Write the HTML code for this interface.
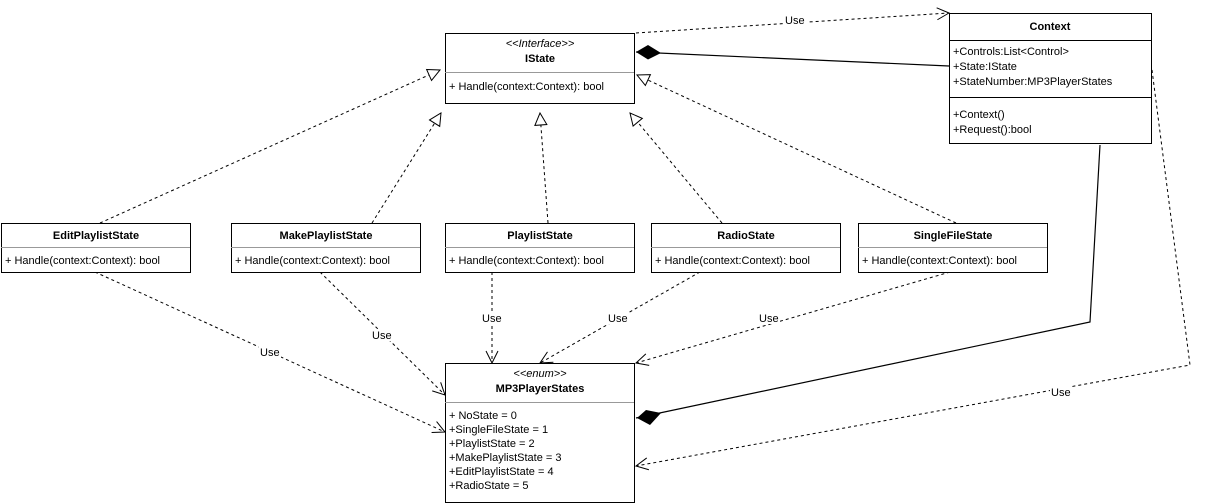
<!DOCTYPE html><html><head><style>body{margin:0;background:#fff}svg{display:block}text{font-family:"Liberation Sans",sans-serif;font-size:11px;fill:#000}</style></head><body>
<svg width="1205" height="504" xmlns="http://www.w3.org/2000/svg">
<defs>
<marker id="tri" markerWidth="14" markerHeight="14" refX="13" refY="7" orient="auto" markerUnits="userSpaceOnUse"><path d="M1,1 L13,7 L1,13 Z" fill="#fff" stroke="#000"/></marker>
<marker id="open" markerWidth="14" markerHeight="14" refX="13" refY="7" orient="auto" markerUnits="userSpaceOnUse"><path d="M1,1 L13,7 L1,13" fill="none" stroke="#000"/></marker>
</defs>
<g fill="none" stroke="#000">
<g stroke-dasharray="3,3">
<path d="M100,223 L440,70" marker-end="url(#tri)"/>
<path d="M372,223 L441,113" marker-end="url(#tri)"/>
<path d="M548,223 L540,113" marker-end="url(#tri)"/>
<path d="M722,223 L630,113" marker-end="url(#tri)"/>
<path d="M956,223 L637,75" marker-end="url(#tri)"/>
<path d="M636,33 L949,13" marker-end="url(#open)"/>
<path d="M1152,70 L1190,365 L636,466" marker-end="url(#open)"/>
<path d="M95,272 L445,432" marker-end="url(#open)"/>
<path d="M320,272 L445,395" marker-end="url(#open)"/>
<path d="M492,272 L492,363" marker-end="url(#open)"/>
<path d="M700,272 L540,363" marker-end="url(#open)"/>
<path d="M950,272 L636,363" marker-end="url(#open)"/>
</g>
<path d="M949,66 L636,52" stroke-width="1.2"/>
<path d="M1100,145 L1090,322 L636,418" stroke-width="1.2"/>
</g>
<g fill="#fff" font-size="11">
<rect x="785" y="14" width="22" height="12"/><text x="785" y="24">Use</text>
<rect x="1050" y="386" width="22" height="12"/><text x="1051" y="396">Use</text>
<rect x="259" y="346" width="22" height="12"/><text x="260" y="356">Use</text>
<rect x="371" y="329" width="22" height="12"/><text x="372" y="339">Use</text>
<rect x="481" y="312" width="22" height="12"/><text x="482" y="322">Use</text>
<rect x="607" y="312" width="22" height="12"/><text x="608" y="322">Use</text>
<rect x="758" y="312" width="22" height="12"/><text x="759" y="322">Use</text>
</g>
<g stroke="#000" fill="#fff">
<rect x="445.5" y="33.5" width="189" height="70"/><line x1="445" y1="72.5" x2="634" y2="72.5" stroke="#999"/>
<rect x="949.5" y="13.5" width="202" height="130"/><line x1="949" y1="40.5" x2="1151" y2="40.5"/><line x1="949" y1="97.5" x2="1151" y2="97.5"/>
<rect x="1.5" y="223.5" width="189" height="49"/><line x1="1" y1="247.5" x2="190" y2="247.5" stroke="#999"/>
<rect x="231.5" y="223.5" width="189" height="49"/><line x1="231" y1="247.5" x2="420" y2="247.5" stroke="#999"/>
<rect x="445.5" y="223.5" width="189" height="49"/><line x1="445" y1="247.5" x2="634" y2="247.5" stroke="#999"/>
<rect x="651.5" y="223.5" width="189" height="49"/><line x1="651" y1="247.5" x2="840" y2="247.5" stroke="#999"/>
<rect x="858.5" y="223.5" width="189" height="49"/><line x1="858" y1="247.5" x2="1047" y2="247.5" stroke="#999"/>
<rect x="445.5" y="363.5" width="189" height="139"/><line x1="445" y1="402.5" x2="634" y2="402.5" stroke="#999"/>
</g>
<polygon points="636,52 648,45 661,53 648,59.5" fill="#000"/>
<polygon points="637,418 646,410 661,413 650,425" fill="#000"/>
<text x="540" y="47" text-anchor="middle" font-style="italic" font-size="10">&lt;&lt;Interface&gt;&gt;</text>
<text x="540" y="62" text-anchor="middle" font-weight="bold">IState</text>
<text x="449" y="90">+ Handle(context:Context): bool</text>
<text x="1050" y="30" text-anchor="middle" font-weight="bold">Context</text>
<text x="953" y="55">+Controls:List&lt;Control&gt;</text>
<text x="953" y="70">+State:IState</text>
<text x="953" y="85">+StateNumber:MP3PlayerStates</text>
<text x="953" y="118">+Context()</text>
<text x="953" y="133">+Request():bool</text>
<text x="96" y="239" text-anchor="middle" font-weight="bold">EditPlaylistState</text>
<text x="5" y="264">+ Handle(context:Context): bool</text>
<text x="326" y="239" text-anchor="middle" font-weight="bold">MakePlaylistState</text>
<text x="235" y="264">+ Handle(context:Context): bool</text>
<text x="540" y="239" text-anchor="middle" font-weight="bold">PlaylistState</text>
<text x="449" y="264">+ Handle(context:Context): bool</text>
<text x="746" y="239" text-anchor="middle" font-weight="bold">RadioState</text>
<text x="655" y="264">+ Handle(context:Context): bool</text>
<text x="953" y="239" text-anchor="middle" font-weight="bold">SingleFileState</text>
<text x="862" y="264">+ Handle(context:Context): bool</text>
<text x="540" y="377" text-anchor="middle" font-style="italic" font-size="10">&lt;&lt;enum&gt;&gt;</text>
<text x="540" y="392" text-anchor="middle" font-weight="bold" font-size="12">MP3PlayerStates</text>
<text x="449" y="419">+ NoState = 0</text>
<text x="449" y="433">+SingleFileState = 1</text>
<text x="449" y="447">+PlaylistState = 2</text>
<text x="449" y="461">+MakePlaylistState = 3</text>
<text x="449" y="475">+EditPlaylistState = 4</text>
<text x="449" y="489">+RadioState = 5</text>
</svg></body></html>
